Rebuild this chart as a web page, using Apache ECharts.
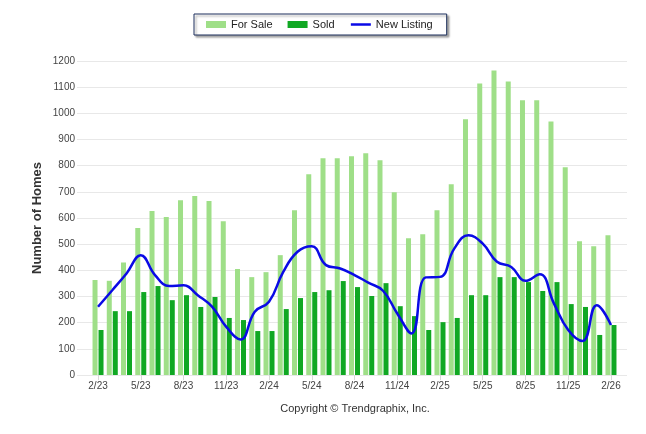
<!DOCTYPE html>
<html>
<head>
<meta charset="utf-8">
<script src="https://cdn.jsdelivr.net/npm/echarts@6/dist/echarts.min.js"></script>
<style>html,body{margin:0;padding:0;background:#fff}#c{width:646px;height:434px}</style>
</head>
<body>
<div id="c"></div>
<script>
var months = ['2/23','3/23','4/23','5/23','6/23','7/23','8/23','9/23','10/23','11/23','12/23','1/24',
  '2/24','3/24','4/24','5/24','6/24','7/24','8/24','9/24','10/24','11/24','12/24','1/25',
  '2/25','3/25','4/25','5/25','6/25','7/25','8/25','9/25','10/25','11/25','12/25','1/26','2/26'];
var forSale = [363,360,430,562,627,604,668,684,665,588,405,374,
  393,458,630,767,828,828,836,847,821,698,523,538,
  630,729,977,1114,1164,1122,1050,1050,969,794,511,492,534];
var sold = [172,244,244,317,340,286,305,260,298,218,210,168,
  168,252,294,317,324,359,336,302,351,263,225,172,
  202,218,305,305,374,374,355,321,355,271,260,153,191];
var newListing = [261,324,388,458,382,340,343,305,261,184,136,242,
  280,394,471,492,420,407,382,352,322,235,159,373,
  375,483,534,502,433,413,360,385,273,172,130,267,191];
var yTicks = {min: 0, max: 1200, interval: 100};

var font = 'Liberation Sans, Arial, sans-serif';
var chart = echarts.init(document.getElementById('c'));
chart.setOption({
  animation: false,
  textStyle: {fontFamily: font},
  legend: {
    left: 194, top: 14,
    padding: [5, 14, 5, 12],
    itemGap: 15,
    itemWidth: 20, itemHeight: 7,
    backgroundColor: '#fff',
    borderColor: '#1c2f5c', borderWidth: 1,
    shadowColor: 'rgba(0,0,0,0.35)', shadowBlur: 2, shadowOffsetX: 2, shadowOffsetY: 2,
    textStyle: {fontSize: 11, color: '#222', fontFamily: font},
    data: [
      {name: 'For Sale', icon: 'rect'},
      {name: 'Sold', icon: 'rect'},
      {name: 'New Listing', itemStyle: {opacity: 0}, lineStyle: {color: '#0a0ae6', width: 2.5}}
    ]
  },
  grid: [
    {left: 77, right: 19, top: 61, bottom: 59},
    {left: 90.9, right: 27.9, top: 61, bottom: 59}
  ],
  xAxis: [
    {type: 'category', gridIndex: 0, data: months, show: false},
    {type: 'category', gridIndex: 1, data: months,
      axisLine: {show: false},
      axisTick: {show: true, alignWithLabel: true, length: 5, interval: 2, lineStyle: {color: '#d8d8d8'}},
      axisLabel: {interval: 2, fontSize: 10, color: '#444', margin: 6, fontFamily: font}
    }
  ],
  yAxis: [
    {type: 'value', gridIndex: 0, min: yTicks.min, max: yTicks.max, interval: yTicks.interval,
      axisLine: {show: false}, axisTick: {show: false},
      axisLabel: {fontSize: 10, color: '#444', margin: 2, fontFamily: font, formatter: function (v) { return String(v); }},
      splitLine: {lineStyle: {color: '#e8e8e8', width: 1}}
    },
    {type: 'value', gridIndex: 1, min: yTicks.min, max: yTicks.max, interval: yTicks.interval, show: false,
      splitLine: {show: false}}
  ],
  series: [
    {name: 'For Sale', type: 'bar', xAxisIndex: 1, yAxisIndex: 1, data: forSale,
      barWidth: 5, barGap: '20%', itemStyle: {color: '#9fdf88'}},
    {name: 'Sold', type: 'bar', xAxisIndex: 1, yAxisIndex: 1, data: sold,
      barWidth: 5, barGap: '20%', itemStyle: {color: '#10a823'}},
    {name: 'New Listing', type: 'line', xAxisIndex: 1, yAxisIndex: 1, data: newListing,
      smooth: 0.45, symbol: 'none', lineStyle: {color: '#0a0ae6', width: 2.5}, itemStyle: {color: '#0a0ae6'}, z: 5}
  ],
  graphic: [
    {type: 'text', x: 37, y: 218, rotation: Math.PI / 2,
      style: {text: 'Number of Homes', font: 'bold 13px ' + font, fill: '#333', align: 'center', verticalAlign: 'middle'}},
    {type: 'text', x: 355, y: 409,
      style: {text: 'Copyright \u00A9 Trendgraphix, Inc.', font: '11px ' + font, fill: '#333', align: 'center', verticalAlign: 'middle'}}
  ]
});
</script>
</body>
</html>
